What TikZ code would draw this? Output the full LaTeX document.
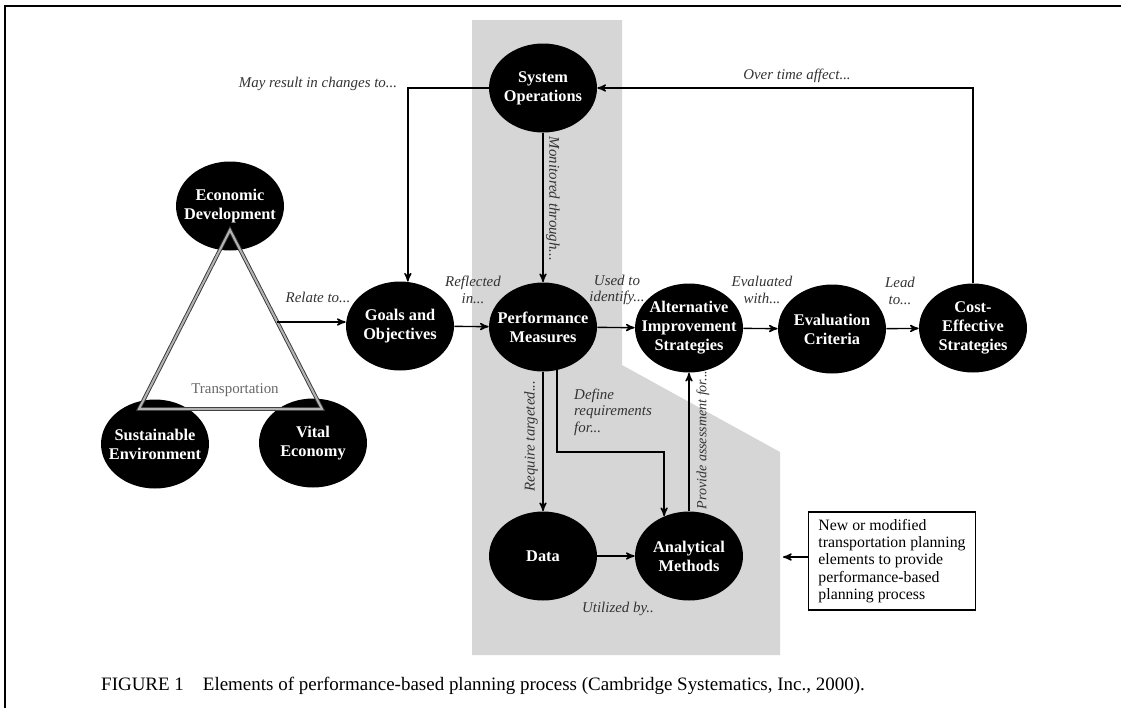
\documentclass[tikz,border=0pt]{standalone}
\usepackage{fontspec}
\setmainfont{Liberation Serif}
\usetikzlibrary{shapes.geometric, arrows}
\newcommand{\elemfont}{\bfseries\fontsize{9.3}{10.8}\selectfont}
\newcommand{\notefont}{\itshape\fontsize{8.5}{9.3}\selectfont}

\begin{document}
\begin{tikzpicture}[x=0.02cm, y=-0.02cm, >=stealth',
  elem/.style = {ellipse, fill=black, text=white, font=\elemfont, align=center,
                 minimum width=2.16cm, minimum height=1.78cm, inner xsep=-8pt, inner ysep=0pt},
  note/.style = {font=\notefont, text=black!80, align=center},
  link/.style = {draw, line width=0.8pt, ->},
  tri/.style  = {draw=black!80, line width=0.5pt, double=black!30, double distance=1.2pt, line join=miter}]
\useasboundingbox (0,0) rectangle (1121,708);
% page frame
\draw[line width=1.1pt] (5,708) -- (5,6);
\draw[line width=1.6pt] (4,6) -- (1121,6);
% shaded area
\fill[black!16] (472,20) -- (622,20) -- (622,365) -- (780,452) -- (780,655) -- (472,655) -- cycle;

% elements
\node[elem] (sysop) at (543,88)  {System\\Operations};
\node[elem] (econ)  at (230,206) {Economic\\Development};
\node[elem] (sust)  at (155,444) {Sustainable\\Environment};
\node[elem] (vital) at (313,443) {Vital\\Economy};
\node[elem] (goals) at (400,326) {Goals and\\Objectives};
\node[elem] (perf)  at (543,327) {Performance\\Measures};
\node[elem] (alt)   at (689,328) {Alternative\\Improvement\\Strategies};
\node[elem] (eval)  at (832,329) {Evaluation\\Criteria};
\node[elem] (cost)  at (973,328) {Cost-\\Effective\\Strategies};
\node[elem] (data)  at (543,556) {Data};
\node[elem] (anal)  at (689,556) {Analytical\\Methods};

% transportation triangle
\coordinate (apex) at (230,230);
\coordinate (tl) at (139,409);
\coordinate (tr) at (322,409);
\draw[tri] (apex) -- (tl) -- (tr) -- cycle;
\node[font=\fontsize{8.5}{10}\selectfont, text=black!60] (transp) at (235,390) {Transportation};
\coordinate (relate) at (277,322);

% connectors
\draw[link] (relate) -- (relate -| goals.west);
\draw[link] (goals) -- (perf);
\draw[link] (perf) -- (alt);
\draw[link] (alt) -- (eval);
\draw[link] (eval) -- (cost);
\draw[link] (cost.north) |- (sysop.east);
\draw[link] (sysop.west) -| (goals.80);
\draw[link] (sysop) -- (perf);
\draw[link] (perf) -- (data);
\coordinate (bend) at (610,452);
\draw[link] (perf.-72) |- (bend) -| (anal.122);
\draw[link] (anal) -- (alt);
\draw[link] (data) -- (anal);

% new elements box
\node[draw, line width=0.8pt, minimum width=3.34cm, minimum height=1.96cm, align=left,
      font=\fontsize{9}{9.9}\selectfont] (newbox) at (892,561)
  {New or modified\\transportation planning\\elements to provide\\performance-based\\planning process};
\coordinate (tip) at (783,557);
\draw[link] (tip -| newbox.west) -- (tip);

% labels
\node[note] (l1) at (318,84)  {May result in changes to...};
\node[note] (l2) at (797,76)  {Over time affect...};
\node[note] (l3) at (318,297) {Relate to...};
\node[note] (l4) at (473,290) {Reflected\\in...};
\node[note] (l5) at (617,290) {Used to\\identify...};
\node[note] (l6) at (762,290) {Evaluated\\with...};
\node[note] (l7) at (900,291) {Lead\\to...};
\node[note, align=left, anchor=west] (l8) at (568,412) {Define\\requirements\\for...};
\node[note] (l9) at (618,609) {Utilized by..};
\node[note, rotate=-90] (l10) at (553,199) {Monitored through...};
\node[note, rotate=90] (l11) at (531,436) {Require targeted...};
\node[note, rotate=90, font=\itshape\fontsize{8}{9}\selectfont] (l12) at (703,440) {Provide assessment for...};

% caption
\node[anchor=west, font=\fontsize{10.8}{13}\selectfont] (caption) at (95,686)
  {FIGURE 1\quad Elements of performance-based planning process (Cambridge Systematics, Inc., 2000).};
\end{tikzpicture}
\end{document}
